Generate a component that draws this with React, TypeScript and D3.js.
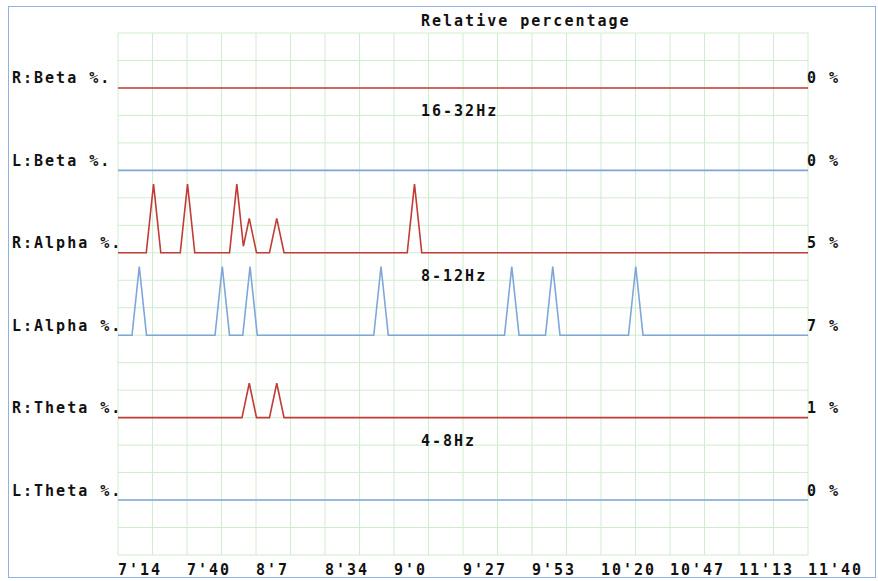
import React from "react";
import * as d3 from "d3";

// ---- data ----
const rowLabels = ["R:Beta %.", "L:Beta %.", "R:Alpha %.", "L:Alpha %.", "R:Theta %.", "L:Theta %."];
const rowValues = ["0 %", "0 %", "5 %", "7 %", "1 %", "0 %"];
const rowColors = ["#c23b36", "#7fa6d9", "#c23b36", "#7fa6d9", "#c23b36", "#7fa6d9"];
const bandLabels = ["16-32Hz", "8-12Hz", "4-8Hz"];
const xTickLabels = ["7'14", "7'40", "8'7", "8'34", "9'0", "9'27", "9'53", "10'20", "10'47", "11'13", "11'40"];
const timeStart = 434; // 7'14 in seconds
const timeEnd = 700; // 11'40 in seconds

// peaks: [seconds, height]
const rBetaPeaks: [number, number][] = [];
const lBetaPeaks: [number, number][] = [];
const rAlphaPeaks: [number, number][] = [
  [447.7, 2], [460.8, 2], [479.8, 2], [484.6, 1], [495.2, 1], [548.3, 2],
];
const lAlphaPeaks: [number, number][] = [
  [442.2, 2], [474.2, 2], [484.9, 2], [535.4, 2], [585.8, 2], [601.6, 2], [633.6, 2],
];
const rThetaPeaks: [number, number][] = [[484.6, 1], [495.2, 1]];
const lThetaPeaks: [number, number][] = [];
const seriesPeaks = [rBetaPeaks, lBetaPeaks, rAlphaPeaks, lAlphaPeaks, rThetaPeaks, lThetaPeaks];
const peakHalfWidth = 2.8; // seconds

// ---- layout ----
const W = 878, H = 581;
const left = 118, right = 808, top = 33, bottom = 555;
const nCols = 20, nRows = 19;
const FONT = "'DejaVu Sans Mono', 'Liberation Mono', monospace";

function seriesPoints(peaks: [number, number][]): [number, number][] {
  const hw = peakHalfWidth;
  const ts = new Set<number>([timeStart, timeEnd]);
  peaks.forEach(([t]) => {
    ts.add(t - hw);
    ts.add(t);
    ts.add(t + hw);
  });
  for (let i = 1; i < peaks.length; i++) {
    const [tA, vA] = peaks[i - 1];
    const [tB, vB] = peaks[i];
    if (tB - hw < tA + hw) {
      ts.add((vA * (hw + tA) + vB * (tB - hw)) / (vA + vB));
    }
  }
  const sorted = Array.from(ts).sort((a, b) => a - b);
  return sorted.map((t) => {
    let v = 0;
    peaks.forEach(([pt, pv]) => {
      const d = Math.abs(t - pt);
      if (d < hw) v = Math.max(v, pv * (1 - d / hw));
    });
    return [t, v];
  });
}

export default function App() {
  const colX = d3.scaleLinear().domain([0, nCols]).range([left, right]);
  const rowY = d3.scaleLinear().domain([0, nRows]).range([bottom, top]);
  const tx = d3.scaleLinear().domain([timeStart, timeEnd]).range([left, right]);
  const baselineRows = [17, 14, 11, 8, 5, 2];
  const unitRows = 1.25;

  const textStyle: React.CSSProperties = {
    fontFamily: FONT,
    fontSize: 15,
    fontWeight: "bold",
    letterSpacing: 2,
    fill: "#111",
  };

  return (
    <svg width={W} height={H} style={{ position: "absolute", left: 0, top: 0, background: "#fff" }}>
      <rect x={8.5} y={6.5} width={867} height={571} fill="#fff" stroke="#8fb2e2" strokeWidth={1} />
      {/* grid */}
      <g stroke="#cfeccf" strokeWidth={1}>
        {d3.range(nCols + 1).map((i) => (
          <line key={"v" + i} x1={colX(i)} x2={colX(i)} y1={top} y2={bottom} />
        ))}
        {d3.range(nRows + 1).map((i) => (
          <line key={"h" + i} x1={left} x2={right} y1={rowY(i)} y2={rowY(i)} />
        ))}
      </g>
      {/* series */}
      {seriesPeaks.map((peaks, i) => {
        const base = baselineRows[i];
        const line = d3
          .line<[number, number]>()
          .x((d) => tx(d[0]))
          .y((d) => rowY(base + d[1] * unitRows));
        return (
          <path key={"s" + i} d={line(seriesPoints(peaks)) || ""} fill="none" stroke={rowColors[i]} strokeWidth={1.6} />
        );
      })}
      {/* labels */}
      <text x={421} y={26} style={textStyle}>Relative percentage</text>
      {rowLabels.map((l, i) => (
        <text key={"l" + i} x={12} y={rowY(baselineRows[i]) - 4.5} style={textStyle}>{l}</text>
      ))}
      {rowValues.map((l, i) => (
        <text key={"r" + i} x={807} y={rowY(baselineRows[i]) - 4.5} style={textStyle}>{l}</text>
      ))}
      {bandLabels.map((l, i) => (
        <text key={"b" + i} x={421} y={rowY(baselineRows[i * 2]) + 28} style={textStyle}>{l}</text>
      ))}
      {xTickLabels.map((l, i) => (
        <text key={"t" + i} x={colX(i * 2)} y={575} style={textStyle}>{l}</text>
      ))}
    </svg>
  );
}
